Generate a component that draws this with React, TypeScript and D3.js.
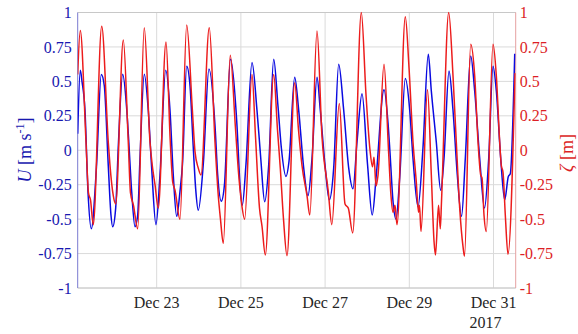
import React from 'react';
import * as d3 from 'd3';

const W = 578;
const H = 334;
const PL = 77.7, PR = 515.7, PT = 12.5, PB = 288;

// U [m/s] (blue, left axis): December day (fractional) and value
const uDays = [
  21.124, 21.185, 21.226, 21.297, 21.368, 21.447, 21.570, 21.684, 21.755, 21.850,
  21.914, 21.955, 22.026, 22.093, 22.192, 22.283, 22.330, 22.406, 22.485, 22.549,
  22.603, 22.705, 22.800, 22.881, 22.983, 23.078, 23.214, 23.316, 23.394, 23.475,
  23.553, 23.613, 23.713, 23.791, 23.869, 23.926, 23.988, 24.107, 24.242, 24.385,
  24.449, 24.534, 24.610, 24.753, 24.907, 24.979, 25.033, 25.121, 25.264, 25.382,
  25.437, 25.477, 25.565, 25.660, 25.779, 25.881, 25.960, 26.071, 26.143, 26.278,
  26.373, 26.492, 26.594, 26.689, 26.808, 26.886, 27.005, 27.100, 27.204, 27.323,
  27.442, 27.561, 27.663, 27.758, 27.877, 28.007, 28.119, 28.216, 28.399, 28.494,
  28.542, 28.613, 28.684, 28.772, 28.905, 29.010, 29.088, 29.207, 29.325, 29.451,
  29.523, 29.641, 29.746, 29.824, 29.943, 30.038, 30.140, 30.240, 30.330, 30.458,
  30.553, 30.672, 30.786, 30.886, 30.988, 31.067, 31.171, 31.266, 31.352, 31.399,
  31.504,
];
const uVals = [
  0.12, 0.58, 0.50, 0.29, -0.30, -0.57, -0.12, 0.55, 0.47, -0.11,
  -0.47, -0.555, -0.42, 0.06, 0.552, 0.32, 0.10, -0.30, -0.555, -0.47,
  -0.06, 0.552, 0.29, -0.13, -0.54, -0.18, 0.58, 0.29, -0.18, -0.48,
  -0.30, -0.10, 0.61, 0.47, 0.02, -0.28, -0.435, -0.10, 0.59, 0.18,
  -0.18, -0.37, -0.25, 0.66, 0.18, -0.25, -0.40, -0.10, 0.637, 0.29,
  0.08, -0.08, -0.374, -0.11, 0.66, 0.32, 0.02, -0.19, -0.08, 0.53,
  0.29, -0.13, -0.33, -0.06, 0.53, 0.29, -0.13, -0.36, -0.13, 0.625,
  0.29, -0.13, -0.28, 0.06, 0.41, -0.10, -0.47, -0.18, 0.44, 0.20,
  -0.02, -0.37, -0.50, -0.20, 0.52, 0.29, -0.06, -0.41, 0.02, 0.697,
  0.43, 0.06, -0.29, -0.06, 0.576, 0.29, -0.18, -0.48, -0.06, 0.685,
  0.43, -0.06, -0.42, -0.06, 0.61, 0.43, -0.06, -0.36, -0.19, -0.17,
  0.70,
];

// zeta [m] (red, right axis)
const zDays = [
  21.124, 21.185, 21.321, 21.380, 21.428, 21.494, 21.694, 21.850, 21.891, 21.969,
  22.026, 22.207, 22.325, 22.378, 22.449, 22.549, 22.705, 22.841, 22.895, 22.960,
  23.038, 23.221, 23.323, 23.380, 23.435, 23.553, 23.713, 23.846, 23.910, 23.988,
  24.052, 24.249, 24.385, 24.463, 24.515, 24.582, 24.748, 24.867, 24.948, 25.014,
  25.090, 25.264, 25.347, 25.442, 25.501, 25.580, 25.779, 25.869, 25.936, 26.012,
  26.095, 26.278, 26.368, 26.451, 26.570, 26.637, 26.808, 26.926, 27.076, 27.159,
  27.337, 27.473, 27.551, 27.656, 27.860, 27.972, 28.067, 28.126, 28.162, 28.209,
  28.257, 28.399, 28.506, 28.565, 28.613, 28.660, 28.708, 28.905, 28.993, 29.088,
  29.166, 29.219, 29.242, 29.278, 29.432, 29.523, 29.587, 29.622, 29.694, 29.736,
  29.765, 29.936, 30.038, 30.116, 30.197, 30.276, 30.311, 30.458, 30.553, 30.632,
  30.696, 30.727, 30.774, 30.829, 30.988, 31.067, 31.147, 31.185, 31.226, 31.280,
  31.344, 31.511,
];
const zVals = [
  0.55, 0.87, 0.06, -0.31, -0.36, -0.54, 0.90, 0.06, -0.11, -0.33,
  -0.39, 0.80, 0.06, -0.31, -0.40, -0.57, 0.89, 0.06, -0.11, -0.25,
  -0.42, 0.785, 0.06, -0.23, -0.29, -0.50, 0.91, 0.30, -0.01, -0.13,
  -0.18, 0.89, 0.06, -0.33, -0.50, -0.675, 0.69, 0.18, -0.18, -0.38,
  -0.50, 0.55, 0.10, -0.42, -0.55, -0.76, 0.55, 0.15, -0.13, -0.50,
  -0.765, 0.49, 0.15, -0.11, -0.33, -0.47, 0.865, 0.10, -0.30, -0.54,
  0.34, -0.39, -0.42, -0.60, 1.0, 0.40, 0.0, -0.12, -0.05, -0.26,
  -0.18, 0.625, 0.0, -0.33, -0.45, -0.40, -0.54, 0.97, 0.60, 0.06,
  -0.23, -0.45, -0.40, -0.59, 0.44, -0.18, -0.66, -0.76, -0.40, -0.57,
  -0.37, 1.0, 0.54, 0.06, -0.42, -0.70, -0.77, 0.77, 0.54, 0.06,
  -0.18, -0.20, -0.47, -0.59, 0.77, 0.54, 0.06, -0.11, -0.16, -0.47,
  -0.755, 0.56,
];

const yTicks = [-1, -0.75, -0.5, -0.25, 0, 0.25, 0.5, 0.75, 1];
const yTickLabels = ['-1', '-0.75', '-0.5', '-0.25', '0', '0.25', '0.5', '0.75', '1'];
const xTickDays = [23, 25, 27, 29, 31];
const xTickLabels = ['Dec 23', 'Dec 25', 'Dec 27', 'Dec 29', 'Dec 31'];
const xDomainDays = [21.124, 31.527];
const yearLabel = '2017';

const toDate = (d: number) => new Date(Date.UTC(2017, 11, 1) + (d - 1) * 864e5);

const FONT = '"Liberation Serif", "Times New Roman", serif';
const BLUE = '#0a0ae0';
const RED = '#ec1c1c';
const BLUE_TXT = '#1818b0';
const RED_TXT = '#dc1f26';

export default function App() {
  const x = d3.scaleUtc().domain(xDomainDays.map(toDate)).range([PL, PR]);
  const yL = d3.scaleLinear().domain([-1, 1]).range([PB, PT]);
  const yR = d3.scaleLinear().domain([-1, 1]).range([PB, PT]);

  const uData = uDays.map((d, i) => [d, uVals[i]] as [number, number]);
  const zData = zDays.map((d, i) => [d, zVals[i]] as [number, number]);

  const lineU = d3.line<[number, number]>()
    .x(p => x(toDate(p[0])))
    .y(p => yL(p[1]))
    .curve(d3.curveMonotoneX);
  const lineZ = d3.line<[number, number]>()
    .x(p => x(toDate(p[0])))
    .y(p => yR(p[1]))
    .curve(d3.curveMonotoneX);

  return (
    <svg width={W} height={H} style={{ position: 'absolute', left: 0, top: 0, background: '#fff' }}
      fontFamily={FONT}>
      <defs>
        <clipPath id="plotclip">
          <rect x={PL} y={PT - 1} width={PR - PL} height={PB - PT + 2} />
        </clipPath>
      </defs>
      <rect x={0} y={0} width={W} height={H} fill="#fff" />
      {/* grid */}
      {yTicks.map((t, i) => (
        <line key={'gy' + i} x1={PL} x2={PR} y1={yL(t)} y2={yL(t)} stroke="#dadada" strokeWidth={1} />
      ))}
      {xTickDays.map((d, i) => (
        <line key={'gx' + i} x1={x(toDate(d))} x2={x(toDate(d))} y1={PT} y2={PB} stroke="#dadada" strokeWidth={1} />
      ))}
      {/* box */}
      <line x1={PL} x2={PR} y1={PT} y2={PT} stroke="#c8c8c8" />
      <line x1={PL} x2={PR} y1={PB} y2={PB} stroke="#c8c8c8" />
      <line x1={PL} x2={PL} y1={PT} y2={PB} stroke="#7a7ad0" />
      <line x1={PR} x2={PR} y1={PT} y2={PB} stroke="#e6a0a0" />
      {/* series */}
      <g clipPath="url(#plotclip)">
        <path d={lineU(uData) || ''} fill="none" stroke={BLUE} strokeWidth={1.5} strokeLinejoin="round" />
        <path d={lineZ(zData) || ''} fill="none" stroke={RED} strokeWidth={1.5} strokeLinejoin="round" />
      </g>
      {/* left ticks */}
      {yTicks.map((t, i) => (
        <text key={'ly' + i} x={PL - 6} y={yL(t)} dy="0.35em" textAnchor="end" fontSize={16} fill={BLUE_TXT}>
          {yTickLabels[i]}
        </text>
      ))}
      {/* right ticks */}
      {yTicks.map((t, i) => (
        <text key={'ry' + i} x={PR + 4} y={yR(t)} dy="0.35em" textAnchor="start" fontSize={16} fill={RED_TXT}>
          {yTickLabels[i]}
        </text>
      ))}
      {/* x ticks */}
      {xTickDays.map((d, i) => (
        <text key={'xt' + i} x={x(toDate(d))} y={PB + 20} textAnchor="middle" fontSize={16} fill="#262626">
          {xTickLabels[i]}
        </text>
      ))}
      <text x={x(toDate(xTickDays[xTickDays.length - 1])) - 24} y={PB + 40} textAnchor="start" fontSize={16} fill="#262626">
        {yearLabel}
      </text>
      {/* axis labels */}
      <text transform="translate(31,150) rotate(-90)" textAnchor="middle" fontSize={18} fill={BLUE_TXT}>
        <tspan fontStyle="italic">U</tspan>
        <tspan> [m s</tspan>
        <tspan dy={-7} fontSize={12}>-1</tspan>
        <tspan dy={7}>]</tspan>
      </text>
      <text transform="translate(573,153) rotate(-90)" textAnchor="middle" fontSize={18} fill={RED_TXT}>
        <tspan fontStyle="italic">ζ</tspan>
        <tspan> [m]</tspan>
      </text>
    </svg>
  );
}
